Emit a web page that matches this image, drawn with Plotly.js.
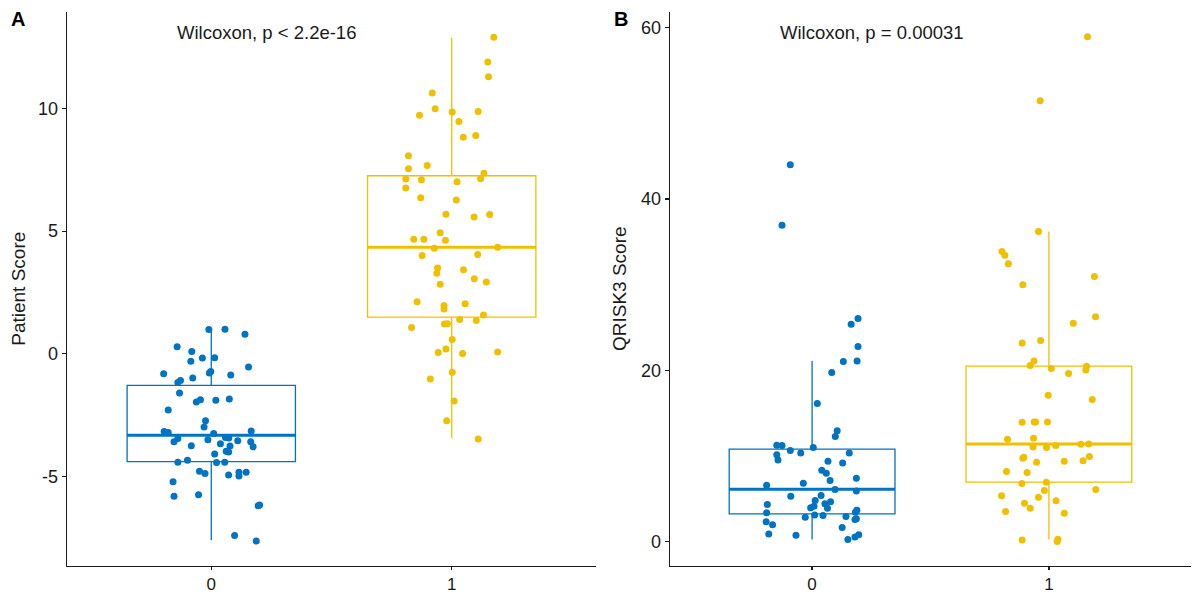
<!DOCTYPE html>
<html><head><meta charset="utf-8">
<script src="https://cdn.plot.ly/plotly-3.0.1.min.js"></script>
<style>html,body{margin:0;padding:0;background:#fff}</style>
</head><body><div id="chart" style="width:1192px;height:595px"></div>
<script>
// ---------- data ----------
const groups = [0, 1];
const groupLabels = ['0', '1'];
const colors = ['#0073C2', '#EFC000'];

// Panel A: Patient Score, group 0
const patientScore0 = [0.99,1.0,0.79,0.285,0.095,-0.31,-0.18,-0.16,-0.54,-0.815,-0.73,-0.79,-0.87,-0.99,-1.09,-1.17,-1.60,-1.875,-1.97,-1.90,-1.85,-2.30,-2.74,-2.99,-3.17,-3.21,-3.26,-3.15,-3.42,-3.44,-3.46,-3.59,-3.51,-3.55,-3.59,-3.67,-3.75,-3.76,-3.80,-4.01,-4.09,-3.98,-4.35,-4.43,-4.44,-4.43,-4.80,-4.89,-4.95,-4.84,-4.84,-4.99,-5.22,-5.82,-5.75,-6.17,-6.20,-7.42,-7.64];
const patientJitter0 = [-0.01,0.057,0.14,-0.142,-0.081,-0.085,-0.037,0.014,0.155,-0.198,-0.002,-0.008,0.081,-0.077,-0.128,-0.139,-0.132,-0.045,-0.062,0.019,0.075,-0.179,-0.024,-0.030,-0.196,-0.179,0.010,0.166,0.059,0.073,-0.139,-0.155,-0.014,0.110,0.164,0.038,-0.083,0.078,0.174,0.072,0.014,0.062,-0.099,-0.139,0.022,0.056,-0.049,-0.026,0.072,0.115,0.145,0.115,-0.159,-0.155,-0.053,0.201,0.195,0.097,0.187];
// Panel A: Patient Score, group 1
const patientScore1 = [12.91,11.90,11.30,10.64,9.99,9.73,9.86,9.88,9.47,8.83,8.90,8.08,7.55,7.68,7.36,7.13,7.10,7.14,7.01,6.76,6.36,6.27,5.69,5.58,5.68,4.93,4.67,4.67,4.63,4.30,4.34,4.01,4.05,3.50,3.28,3.43,3.06,2.93,2.83,2.12,1.97,1.82,2.04,1.58,1.40,1.35,1.07,1.21,1.22,0.58,0.05,0.19,0.01,0.07,-0.76,-1.03,-1.93,-2.74,-3.48];
const patientJitter1 = [0.175,0.150,0.153,-0.081,-0.069,-0.134,0.002,0.110,0.030,0.048,0.100,-0.180,-0.180,-0.102,0.134,-0.191,-0.126,0.120,0.022,-0.191,-0.129,0.019,-0.024,0.093,0.158,-0.048,-0.158,-0.116,-0.026,-0.072,0.191,-0.123,0.108,-0.059,-0.062,0.049,0.094,0.144,-0.048,-0.144,-0.032,-0.032,0.056,0.132,0.033,0.102,-0.167,-0.030,-0.018,0.002,-0.056,-0.024,0.045,0.191,0.002,-0.089,0.010,-0.021,0.110];
// Panel A box statistics
const patientQ1 = [-4.40, 1.49];
const patientMedian = [-3.33, 4.34];
const patientQ3 = [-1.29, 7.26];
const patientLow = [-7.61, -3.45];
const patientHigh = [1.00, 12.89];

// Panel B: QRISK3 Score, group 0
const qriskScore0 = [44.0,36.93,26.03,25.37,22.76,21.09,21.01,19.73,16.11,12.92,12.26,11.25,11.21,10.97,10.62,10.35,10.35,10.12,9.53,9.38,9.18,8.33,7.98,7.12,7.39,6.81,6.58,6.07,5.91,5.29,5.37,4.79,4.63,4.32,4.40,3.93,4.12,3.89,3.35,3.66,3.42,2.84,3.11,3.04,2.92,2.57,2.65,2.30,1.95,1.63,0.89,0.74,0.23,0.54,0.78];
const qriskJitter0 = [-0.092,-0.127,0.194,0.165,0.194,0.190,0.132,0.083,0.022,0.106,0.098,-0.149,-0.127,0.005,-0.092,-0.048,0.157,-0.149,-0.144,0.067,0.129,0.041,0.060,0.076,0.187,-0.037,-0.192,0.097,0.187,-0.090,0.038,0.013,0.078,-0.189,0.054,-0.006,0.008,0.065,-0.192,0.189,0.183,-0.029,0.011,0.046,0.143,0.181,0.187,-0.194,-0.167,0.127,-0.183,-0.068,0.151,0.181,0.197];
// Panel B: QRISK3 Score, group 1
const qriskScore1 = [58.95,51.46,36.19,33.86,33.44,32.43,30.95,29.98,26.26,25.49,23.46,23.19,21.09,20.54,20.19,20.47,20.04,19.61,17.08,16.58,13.93,13.97,13.97,13.97,11.95,12.06,11.05,10.97,11.21,11.36,11.40,9.84,9.73,9.26,9.38,9.42,9.92,8.17,8.05,6.77,6.93,6.07,5.95,5.33,5.18,4.47,4.75,3.89,3.50,3.31,0.19,0.27,0.0];
const qriskJitter1 = [0.163,-0.037,-0.044,-0.198,-0.186,-0.171,0.192,-0.110,0.197,0.103,-0.035,-0.113,-0.063,-0.079,0.010,0.159,0.156,0.083,-0.003,0.183,-0.113,-0.062,-0.056,-0.006,-0.175,-0.065,-0.067,-0.010,0.029,0.135,0.168,-0.106,-0.110,-0.052,0.065,0.144,0.171,-0.179,-0.092,-0.114,-0.011,0.198,-0.019,-0.200,-0.044,-0.103,0.030,-0.079,-0.183,0.065,-0.113,0.038,0.035];
// Panel B box statistics
const qriskQ1 = [3.23, 6.93];
const qriskMedian = [6.11, 11.40];
const qriskQ3 = [10.78, 20.47];
const qriskLow = [0.23, 0.23];
const qriskHigh = [21.09, 36.20];

const patientTicks = [-5, 0, 5, 10];
const patientTickText = ['-5', '0', '5', '10'];
const qriskTicks = [0, 20, 40, 60];
const qriskTickText = ['0', '20', '40', '60'];

// ---------- traces ----------
const BOXW = 0.7;
const traces = [];
function addPanel(xa, ya, q1, med, q3, lo, hi, scores, jitters) {
  groups.forEach((g, i) => {
    traces.push({
      type: 'box', x: [g], q1: [q1[i]], median: [med[i]], q3: [q3[i]],
      lowerfence: [lo[i]], upperfence: [hi[i]],
      width: BOXW, whiskerwidth: 0, boxpoints: false,
      line: {color: colors[i], width: 1.3}, fillcolor: 'rgba(255,255,255,0)',
      xaxis: xa, yaxis: ya, hoverinfo: 'skip', showlegend: false
    });
    traces.push({
      type: 'scatter', mode: 'lines',
      x: [g - BOXW / 2, g + BOXW / 2], y: [med[i], med[i]],
      line: {color: colors[i], width: 3},
      xaxis: xa, yaxis: ya, hoverinfo: 'skip', showlegend: false
    });
  });
  groups.forEach((g, i) => {
    traces.push({
      type: 'scatter', mode: 'markers',
      x: jitters[i].map(j => g + j), y: scores[i],
      marker: {color: colors[i], size: 7, line: {width: 0}},
      xaxis: xa, yaxis: ya, hoverinfo: 'skip', showlegend: false
    });
  });
}
addPanel('x', 'y', patientQ1, patientMedian, patientQ3, patientLow, patientHigh,
  [patientScore0, patientScore1], [patientJitter0, patientJitter1]);
addPanel('x2', 'y2', qriskQ1, qriskMedian, qriskQ3, qriskLow, qriskHigh,
  [qriskScore0, qriskScore1], [qriskJitter0, qriskJitter1]);

// ---------- layout ----------
const FONT = 'Liberation Sans, Arial, sans-serif';
const axisCommon = {
  showline: true, linecolor: '#1a1a1a', linewidth: 1.3,
  ticks: 'outside', ticklen: 4, tickwidth: 1.2, tickcolor: '#1a1a1a',
  showgrid: false, zeroline: false,
  tickfont: {family: FONT, size: 18, color: '#1a1a1a'}
};
const xTickFont = {family: FONT, size: 17, color: '#1a1a1a'};
const layout = {
  width: 1192, height: 595,
  margin: {l: 0, r: 0, t: 0, b: 0},
  paper_bgcolor: '#ffffff', plot_bgcolor: '#ffffff',
  showlegend: false,
  font: {family: FONT, color: '#1a1a1a'},
  xaxis: Object.assign({}, axisCommon, {
    domain: [67 / 1192, 596 / 1192], range: [-0.6, 1.6],
    tickvals: groups, ticktext: groupLabels, anchor: 'y', ticklen: 3, tickfont: xTickFont
  }),
  yaxis: Object.assign({}, axisCommon, {
    domain: [29.5 / 595, 583 / 595], range: [-8.64, 13.94],
    tickvals: patientTicks, ticktext: patientTickText, anchor: 'x',
    title: {text: 'Patient Score', font: {family: FONT, size: 19, color: '#1a1a1a'}, standoff: 7}
  }),
  xaxis2: Object.assign({}, axisCommon, {
    domain: [670 / 1192, 1191 / 1192], range: [-0.6, 1.6],
    tickvals: groups, ticktext: groupLabels, anchor: 'y2', ticklen: 3, tickfont: xTickFont
  }),
  yaxis2: Object.assign({}, axisCommon, {
    domain: [29.5 / 595, 583 / 595], range: [-2.8, 61.83],
    tickvals: qriskTicks, ticktext: qriskTickText, anchor: 'x2',
    title: {text: 'QRISK3 Score', font: {family: FONT, size: 19, color: '#1a1a1a'}, standoff: 9}
  }),
  annotations: [
    {text: '<b>A</b>', xref: 'paper', yref: 'paper', x: 9 / 1192, y: 1 - 19.5 / 595,
     xanchor: 'left', yanchor: 'middle', showarrow: false, font: {family: FONT, size: 20, color: '#000'}},
    {text: '<b>B</b>', xref: 'paper', yref: 'paper', x: 612 / 1192, y: 1 - 19.5 / 595,
     xanchor: 'left', yanchor: 'middle', showarrow: false, font: {family: FONT, size: 20, color: '#000'}},
    {text: 'Wilcoxon, p < 2.2e-16', xref: 'paper', yref: 'paper', x: 175 / 1192, y: 1 - 32 / 595,
     xanchor: 'left', yanchor: 'middle', showarrow: false, font: {family: FONT, size: 18.5, color: '#1a1a1a'}},
    {text: 'Wilcoxon, p = 0.00031', xref: 'paper', yref: 'paper', x: 778 / 1192, y: 1 - 32 / 595,
     xanchor: 'left', yanchor: 'middle', showarrow: false, font: {family: FONT, size: 18.5, color: '#1a1a1a'}}
  ]
};

Plotly.newPlot('chart', traces, layout, {displayModeBar: false, staticPlot: true});
</script>
</body></html>
